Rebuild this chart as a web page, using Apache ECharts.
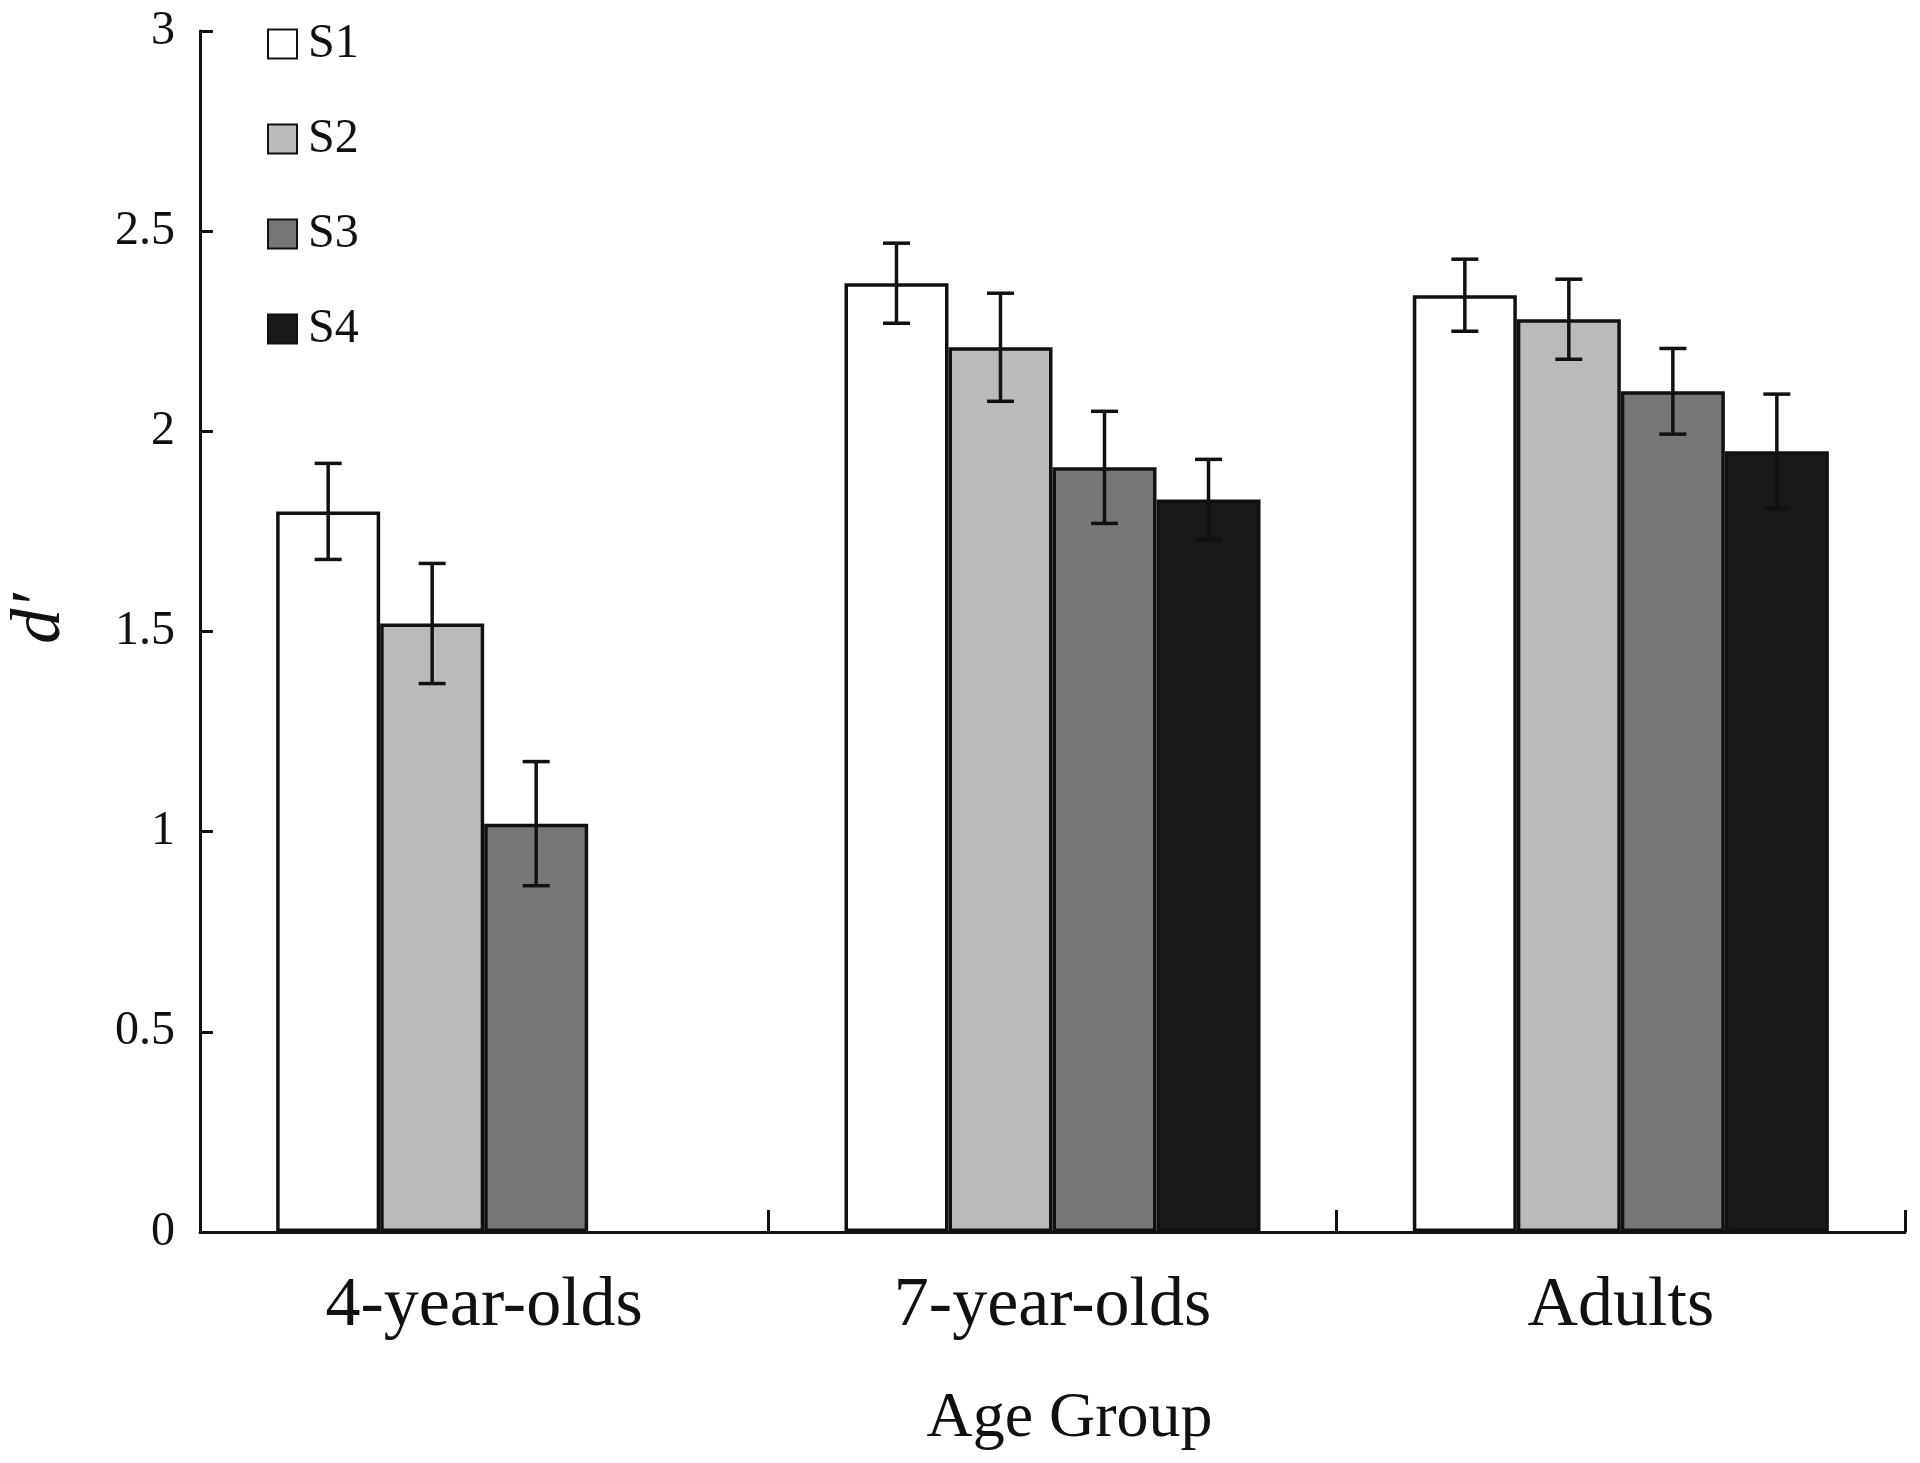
<!DOCTYPE html>
<html>
<head>
<meta charset="utf-8">
<script src="https://cdn.jsdelivr.net/npm/echarts@6/dist/echarts.min.js"></script>
<style>html,body{margin:0;padding:0;background:#fff}#c{width:1920px;height:1463px}</style>
</head>
<body>
<div id="c"></div>
<script>
const categories = ['4-year-olds', '7-year-olds', 'Adults'];
const seriesNames = ['S1', 'S2', 'S3', 'S4'];
const s1 = [1.80, 2.37, 2.34];
const s2 = [1.52, 2.21, 2.28];
const s3 = [1.02, 1.91, 2.10];
const s4 = ['-', 1.83, 1.95];
const e1 = [0.12, 0.10, 0.09];
const e2 = [0.15, 0.135, 0.10];
const e3 = [0.155, 0.14, 0.107];
const e4 = ['-', 0.10, 0.143];
const yTicks = [0, 0.5, 1, 1.5, 2, 2.5, 3];

const values = [s1, s2, s3, s4];
const errs = [e1, e2, e3, e4];
const colors = ['#ffffff', '#bababa', '#777777', '#1a1a1a'];
const catGap = 0.268;
const serif = 'Liberation Serif';

const errData = [];
for (let si = 0; si < 4; si++) {
  for (let ci = 0; ci < categories.length; ci++) {
    if (values[si][ci] === '-') continue;
    errData.push([ci, values[si][ci], errs[si][ci], si]);
  }
}

const chart = echarts.init(document.getElementById('c'));
const barSeries = seriesNames.map((n, i) => ({
  name: n,
  type: 'bar',
  data: values[i],
  barGap: '0%',
  barCategoryGap: (catGap * 100) + '%',
  itemStyle: { color: colors[i], borderColor: '#111', borderWidth: 3.5 },
  z: 2
}));

chart.setOption({
  animation: false,
  backgroundColor: '#fff',
  grid: { left: 200, right: 15, top: 31, bottom: 231, containLabel: false, outerBoundsMode: 'none' },
  legend: {
    data: seriesNames,
    orient: 'vertical',
    icon: 'rect',
    left: 262,
    top: 14,
    itemWidth: 29,
    itemHeight: 29,
    itemGap: 45,
    textStyle: { fontFamily: serif, fontSize: 48, color: '#111', lineHeight: 50, padding: [0, 0, 0, 6] }
  },
  xAxis: {
    type: 'category',
    data: categories,
    name: 'Age Group',
    nameLocation: 'middle',
    nameGap: 155,
    nameTextStyle: { fontFamily: serif, fontSize: 64, color: '#111', padding: [0, 0, 0, 34] },
    axisLine: { lineStyle: { color: '#111', width: 3 } },
    axisTick: { show: true, inside: true, length: 22, lineStyle: { color: '#111', width: 3 } },
    axisLabel: { fontFamily: serif, fontSize: 70, color: '#111', margin: 40 }
  },
  yAxis: {
    type: 'value',
    min: 0, max: 3, interval: 0.5,
    name: 'd\u2032',
    nameLocation: 'middle',
    nameRotate: 90,
    nameGap: 124,
    nameTextStyle: { fontFamily: serif, fontStyle: 'italic', fontSize: 70, color: '#111', padding: [0, 0, 0, 26] },
    splitLine: { show: false },
    axisLine: { show: true, lineStyle: { color: '#111', width: 3 } },
    axisTick: { show: true, inside: true, length: 13, lineStyle: { color: '#111', width: 3 } },
    axisLabel: { fontFamily: serif, fontSize: 48, color: '#111', margin: 25,
      formatter: v => yTicks.includes(v) ? String(v) : '' }
  },
  series: barSeries.concat([{
    type: 'custom',
    name: 'err',
    data: errData,
    z: 10,
    encode: { x: 0, y: 1 },
    renderItem: function (params, api) {
      const ci = api.value(0), v = api.value(1), e = api.value(2), si = api.value(3);
      const band = api.size([1, 0])[0];
      const bw = band * (1 - catGap) / 4;
      const c = api.coord([ci, v]);
      const x = c[0] + (si - 1.5) * bw;
      const top = api.coord([ci, v + e])[1];
      const bot = api.coord([ci, v - e])[1];
      const hw = 13.5;
      const st = { stroke: '#111', lineWidth: 3.5 };
      return { type: 'group', children: [
        { type: 'line', shape: { x1: x, y1: top, x2: x, y2: bot }, style: st },
        { type: 'line', shape: { x1: x - hw, y1: top, x2: x + hw, y2: top }, style: st },
        { type: 'line', shape: { x1: x - hw, y1: bot, x2: x + hw, y2: bot }, style: st }
      ]};
    }
  }])
});
</script>
</body>
</html>
